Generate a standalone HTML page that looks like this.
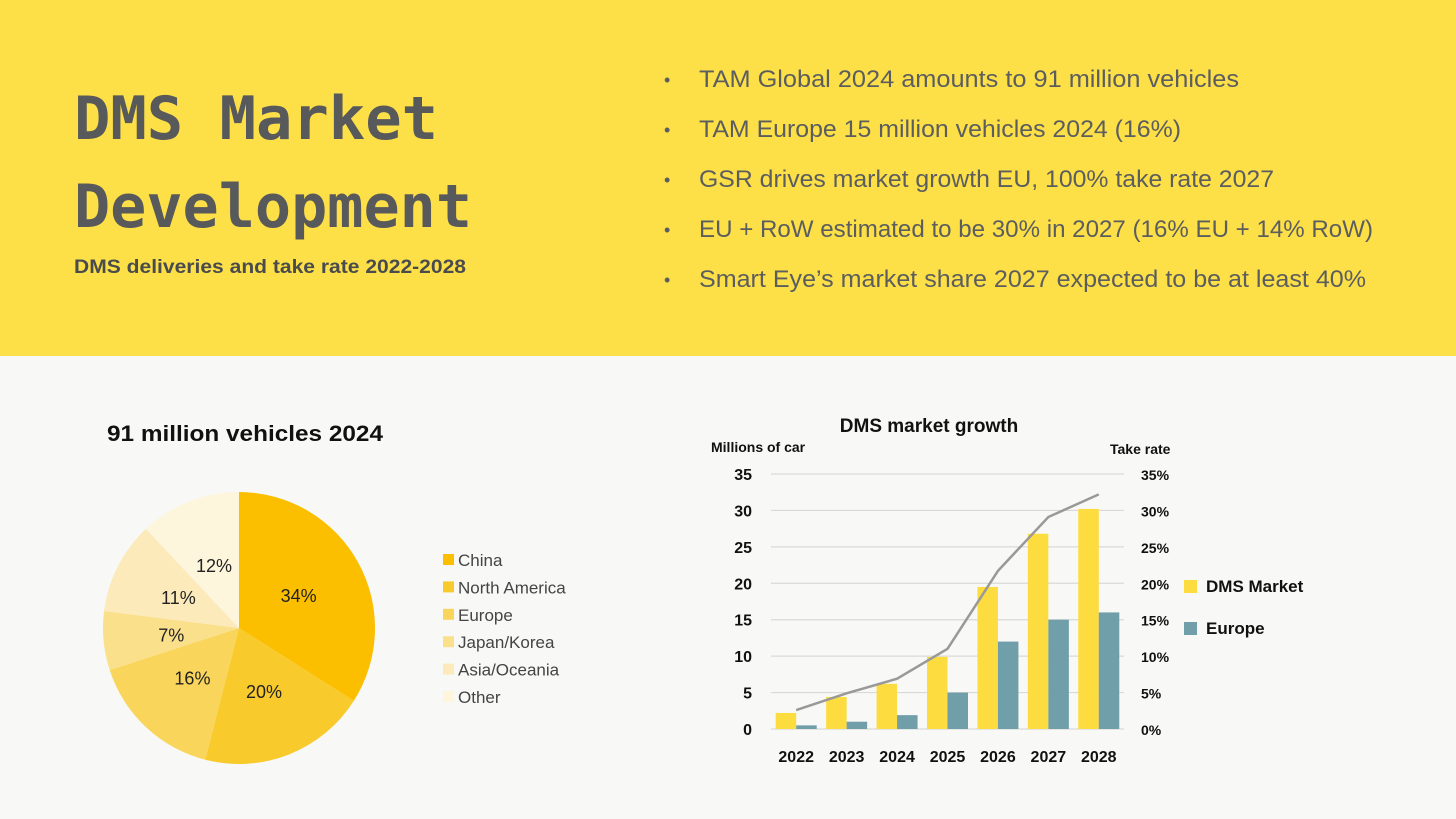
<!DOCTYPE html>
<html><head><meta charset="utf-8"><style>
html,body{margin:0;padding:0;width:1456px;height:819px;overflow:hidden;background:#f8f9f6}
svg{display:block}
</style></head><body>
<svg id="root" width="1456" height="819" viewBox="0 0 1456 819" xmlns="http://www.w3.org/2000/svg">
<rect x="0" y="0" width="1456" height="356" fill="#fde047"/>
<rect x="0" y="356" width="1456" height="463" fill="#f8f9f6"/>
<g font-family="'DejaVu Sans Mono', monospace" font-weight="bold" font-size="60" fill="#58595b">
<text x="74" y="139" textLength="364" lengthAdjust="spacingAndGlyphs">DMS Market</text>
<text x="74" y="227" textLength="398" lengthAdjust="spacingAndGlyphs">Development</text>
</g>
<text x="74" y="273" font-family="'Liberation Sans', sans-serif" font-weight="bold" font-size="19" fill="#4a4b4d" textLength="392" lengthAdjust="spacingAndGlyphs">DMS deliveries and take rate 2022-2028</text>
<g font-family="'Liberation Sans', sans-serif" font-size="24" fill="#5c5d5f">
<text x="664" y="86" font-size="18">•</text><text x="699" y="87" textLength="540" lengthAdjust="spacingAndGlyphs">TAM Global 2024 amounts to 91 million vehicles</text>
<text x="664" y="136" font-size="18">•</text><text x="699" y="137" textLength="482" lengthAdjust="spacingAndGlyphs">TAM Europe 15 million vehicles 2024 (16%)</text>
<text x="664" y="186" font-size="18">•</text><text x="699" y="187" textLength="575" lengthAdjust="spacingAndGlyphs">GSR drives market growth EU, 100% take rate 2027</text>
<text x="664" y="236" font-size="18">•</text><text x="699" y="237" textLength="674" lengthAdjust="spacingAndGlyphs">EU + RoW estimated to be 30% in 2027 (16% EU + 14% RoW)</text>
<text x="664" y="286" font-size="18">•</text><text x="699" y="287" textLength="667" lengthAdjust="spacingAndGlyphs">Smart Eye’s market share 2027 expected to be at least 40%</text>
</g>
<text x="107" y="441" font-family="'Liberation Sans', sans-serif" font-weight="bold" font-size="22" fill="#111" textLength="276" lengthAdjust="spacingAndGlyphs">91 million vehicles 2024</text>
<g id="pie"></g>
<g id="bar"></g>
</svg>
<script>
const pieCategories=['China','North America','Europe','Japan/Korea','Asia/Oceania','Other'];
const pieValues=[34,20,16,7,11,12];
const pieColors=['#fbbf00','#f9ca2c','#fad55c','#fbe08c','#fceabb','#fdf5dc'];

const barYears=['2022','2023','2024','2025','2026','2027','2028'];
const dmsMarket=[2.2,4.4,6.2,9.9,19.5,26.8,30.2];
const europe=[0.5,1.0,1.9,5.0,12.0,15.0,16.0];
const takeRate=[2.6,4.9,6.9,11.0,21.7,29.1,32.2];
const yTicks=[0,5,10,15,20,25,30,35];
const y2Ticks=['0%','5%','10%','15%','20%','25%','30%','35%'];

const NS='http://www.w3.org/2000/svg';
function mk(parent,tag,attrs,text){const e=document.createElementNS(NS,tag);for(const k in attrs)e.setAttribute(k,attrs[k]);if(text!==undefined)e.textContent=text;parent.appendChild(e);return e;}

// Pie
(function(){
const g=document.getElementById('pie');
const cx=239,cy=628,r=136;
const total=pieValues.reduce((a,b)=>a+b,0);
let a0=-Math.PI/2;
pieValues.forEach((v,i)=>{
 const a1=a0+v/total*Math.PI*2;
 const x0=cx+r*Math.cos(a0),y0=cy+r*Math.sin(a0),x1=cx+r*Math.cos(a1),y1=cy+r*Math.sin(a1);
 const large=(a1-a0)>Math.PI?1:0;
 const p=mk(g,'path',{d:`M${cx},${cy}L${x0},${y0}A${r},${r} 0 ${large} 1 ${x1},${y1}Z`,fill:pieColors[i]});
 
 
 const am=(a0+a1)/2, lr=r*0.5;
 const t=mk(g,'text',{x:cx+lr*Math.cos(am),y:cy+lr*Math.sin(am)+7,'text-anchor':'middle','font-family':"'Liberation Sans', sans-serif",'font-size':18,fill:'#222'},v+'%');
 
 
 a0=a1;
});
pieCategories.forEach((c,i)=>{
 const y=560+i*27.4;
 const s=mk(g,'rect',{x:443,y:y-6,width:11,height:11,fill:pieColors[i]});
 
 
 const t=mk(g,'text',{x:458,y:y+6,'font-family':"'Liberation Sans', sans-serif",'font-size':17,fill:'#444'},c);
 
 
});
})();

// Bar chart
(function(){
const g=document.getElementById('bar');
const x0=771,x1=1124,y0=729,yTop=474,maxV=35;
const band=(x1-x0)/barYears.length;
const yS=v=>y0-(v/maxV)*(y0-yTop);
const xC=i=>x0+band*(i+0.5);
const font="'Liberation Sans', sans-serif";
let t=mk(g,'text',{x:929,y:432,'text-anchor':'middle','font-family':font,'font-weight':'bold','font-size':19,fill:'#111'},'DMS market growth');


t=mk(g,'text',{x:711,y:452,'font-family':font,'font-weight':'bold','font-size':14,fill:'#111'},'Millions of car');


t=mk(g,'text',{x:1110,y:454,'font-family':font,'font-weight':'bold','font-size':14,fill:'#111'},'Take rate');


yTicks.forEach((v,i)=>{
 const y=yS(v);
 const l=mk(g,'line',{x1:x0,x2:x1,y1:y,y2:y,stroke:'#d9d9d9','stroke-width':1.2});
 
 
 const a=mk(g,'text',{x:752,y:y+6,'text-anchor':'end','font-family':font,'font-weight':'bold','font-size':16,fill:'#111'},v);
 
 
 const b=mk(g,'text',{x:1141,y:y+6,'font-family':font,'font-weight':'bold','font-size':14,fill:'#111'},y2Ticks[i]);
 
 
});
const bw=20.5;
barYears.forEach((yr,i)=>{
 const c=xC(i);
 const a=mk(g,'rect',{x:c-bw,y:yS(dmsMarket[i]),width:bw,height:y0-yS(dmsMarket[i]),fill:'#fcdc3e'});
 
 
 const b=mk(g,'rect',{x:c,y:yS(europe[i]),width:bw,height:y0-yS(europe[i]),fill:'#709ea9'});
 
 
 const l=mk(g,'text',{x:c,y:762,'text-anchor':'middle','font-family':font,'font-weight':'bold','font-size':16,fill:'#111'},yr);
 
 
});
const pts=takeRate.map((v,i)=>xC(i)+','+yS(v)).join(' ');
const pl=mk(g,'polyline',{points:pts,fill:'none',stroke:'#999','stroke-width':2.5});


[['DMS Market','#fcdc3e',586],['Europe','#709ea9',628]].forEach(([n,c,y])=>{
 const s=mk(g,'rect',{x:1184,y:y-6,width:13,height:13,fill:c});
 
 
 const tx=mk(g,'text',{x:1206,y:y+6,'font-family':font,'font-weight':'bold','font-size':17,fill:'#111'},n);
 
 
});
})();
</script>
</body></html>
